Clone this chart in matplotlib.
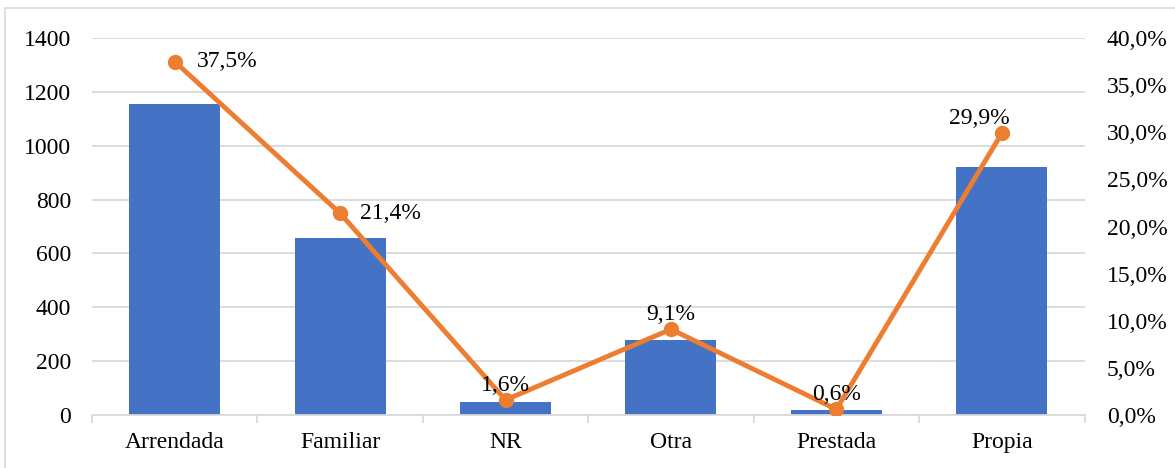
import matplotlib.pyplot as plt
from matplotlib.patches import Rectangle
from matplotlib.ticker import FuncFormatter

plt.rcParams['font.family'] = ['Liberation Serif', 'DejaVu Serif']

categories = ["Arrendada", "Familiar", "NR", "Otra", "Prestada", "Propia"]
counts = [1155, 659, 49, 280, 18, 921]
percents = [37.5, 21.4, 1.6, 9.1, 0.6, 29.9]
left_ticks = [0, 200, 400, 600, 800, 1000, 1200, 1400]
right_ticks = [0, 5, 10, 15, 20, 25, 30, 35, 40]

BLUE = "#4472C4"
ORANGE = "#ED7D31"
GRID = "#D9D9D9"
FS = 17

fig = plt.figure(figsize=(11.75, 4.68), dpi=100)
ax = fig.add_axes([0.0783, 0.1132, 0.8447, 0.8056])

# outer chart border
fig.patches.append(Rectangle((0.004, -0.01), 1.2, 0.993, transform=fig.transFigure,
                             fill=False, edgecolor=GRID, linewidth=1.2))

x = list(range(len(categories)))
ax.bar(x, counts, width=0.55, color=BLUE, zorder=2)
ax.set_ylim(0, 1400)
ax.set_xlim(-0.5, len(categories) - 0.5)
ax.set_yticks(left_ticks)
ax.yaxis.grid(True, color=GRID, linewidth=1.3, zorder=0)
ax.set_axisbelow(True)
for s in ["top", "right", "left"]:
    ax.spines[s].set_visible(False)
ax.spines["bottom"].set_color(GRID)
ax.spines["bottom"].set_linewidth(1.3)
ax.tick_params(axis="y", length=0, labelsize=FS, pad=15)
ax.set_xticks(x)
ax.set_xticklabels(categories, fontsize=FS)
ax.tick_params(axis="x", length=0, pad=12)
# category boundary ticks
ax.set_xticks([i - 0.5 for i in range(len(categories) + 1)], minor=True)
ax.tick_params(axis="x", which="minor", length=6, color=GRID, width=1.3)

ax2 = ax.twinx()
ax2.plot(x, percents, color=ORANGE, linewidth=3.5, marker="o", markersize=10, zorder=3)
ax2.set_ylim(0, 40)
ax2.set_yticks(right_ticks)
ax2.yaxis.set_major_formatter(FuncFormatter(lambda v, p: f"{v:.1f}%".replace(".", ",")))
ax2.tick_params(axis="y", length=0, labelsize=FS, pad=16)
for s in ax2.spines.values():
    s.set_visible(False)

offsets = [(16, 0, "left", "center"), (14, 0, "left", "center"), (0, 3, "center", "bottom"),
           (0, 3, "center", "bottom"), (0, 3, "center", "bottom"), (-16, 3, "center", "bottom")]
for xi, p, (dx, dy, ha, va) in zip(x, percents, offsets):
    ax2.annotate(f"{p:.1f}%".replace(".", ","), (xi, p), xytext=(dx, dy),
                 textcoords="offset points", ha=ha, va=va, fontsize=FS)

fig.savefig("out.png", dpi=100)
